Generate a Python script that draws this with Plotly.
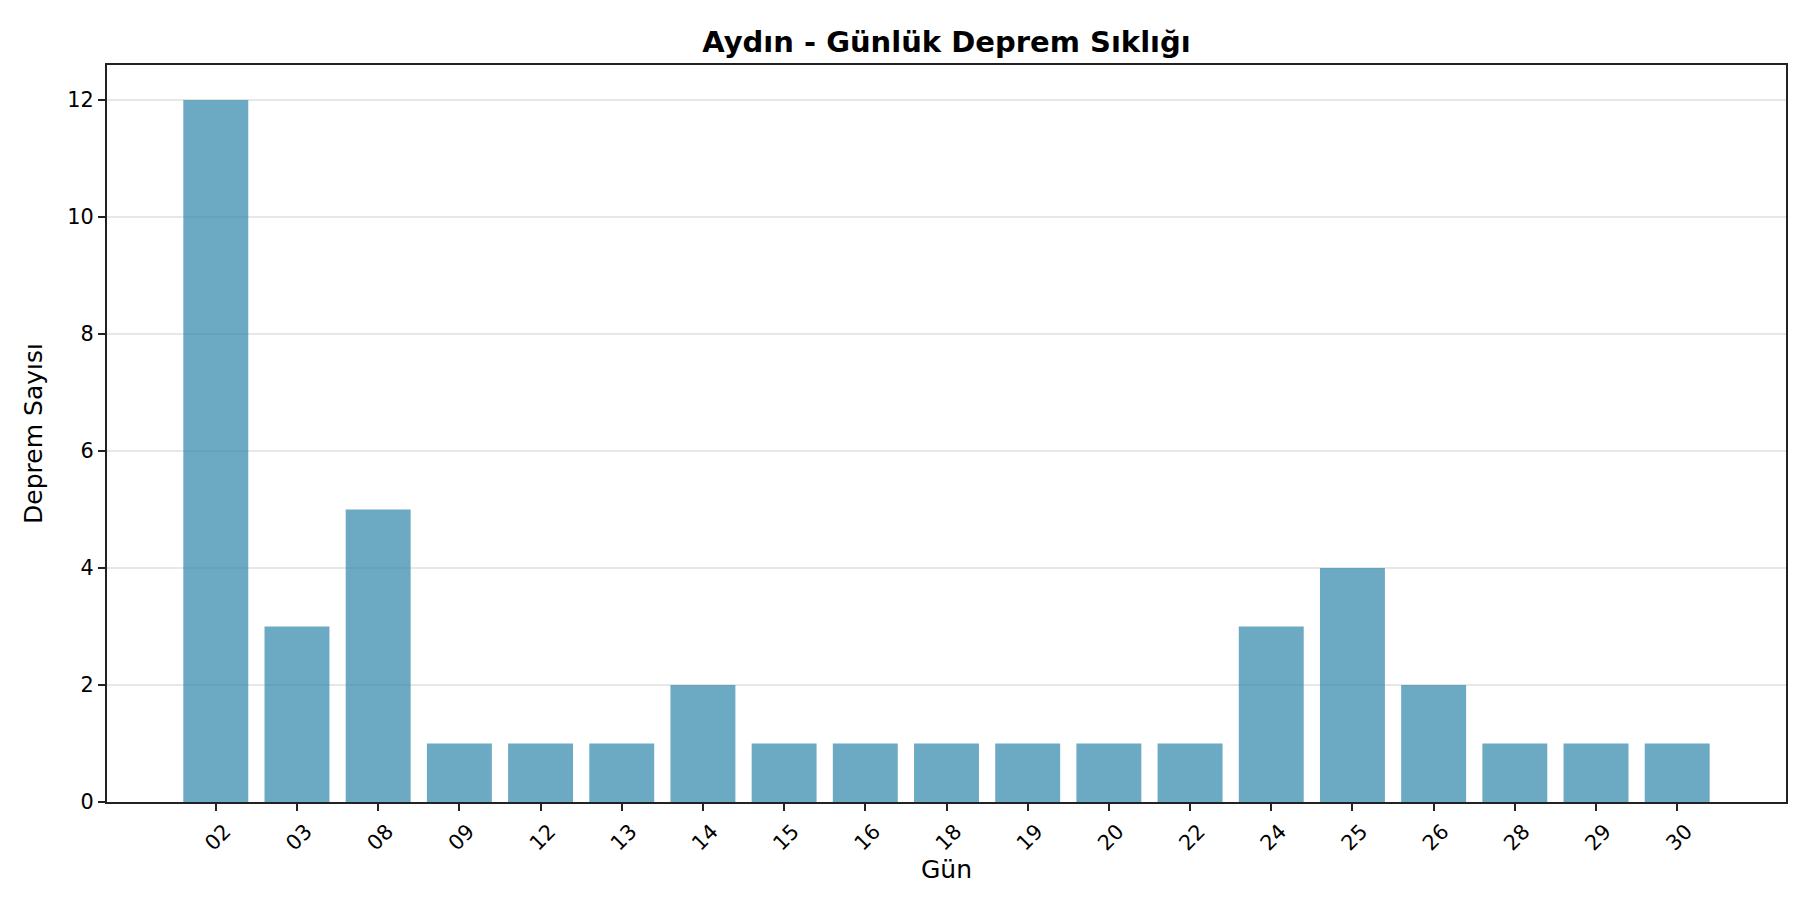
import plotly.graph_objects as go

# günlük deprem sayıları (Aydın)
days = ["02", "03", "08", "09", "12", "13", "14", "15", "16", "18",
        "19", "20", "22", "24", "25", "26", "28", "29", "30"]
counts = [12, 3, 5, 1, 1, 1, 2, 1, 1, 1, 1, 1, 1, 3, 4, 2, 1, 1, 1]
y_ticks = [0, 2, 4, 6, 8, 10, 12]

FONT = "DejaVu Sans"
n = len(days)

fig = go.Figure()
fig.add_trace(go.Bar(
    x=list(range(n)),
    y=counts,
    width=0.8,
    marker=dict(color="#2E86AB", opacity=0.7, line=dict(width=0)),
))

fig.update_layout(
    width=1800, height=900,
    margin=dict(l=99, r=22, t=57, b=106),
    plot_bgcolor="white", paper_bgcolor="white",
    showlegend=False,
    font=dict(family=FONT, color="black"),
    title=dict(text="<b>Aydın - Günlük Deprem Sıklığı</b>",
               font=dict(family=FONT, size=29, color="black"),
               x=0.5, xref="paper", xanchor="center",
               y=1 - 34 / 900, yref="container", yanchor="middle"),
)

fig.update_xaxes(
    range=[-1.34, n - 1 + 1.34],
    tickmode="array", tickvals=list(range(n)), ticktext=days,
    tickangle=-45, tickfont=dict(size=20.8, family=FONT),
    ticklabelshift=9,
    ticks="outside", ticklen=7, tickwidth=2, tickcolor="#222",
    showline=True, linecolor="#222", linewidth=2, mirror=True,
    showgrid=False, zeroline=False,
    title=dict(text="Gün", font=dict(size=25, family=FONT), standoff=6),
)
fig.update_yaxes(
    range=[0, 12.6],
    tickmode="array", tickvals=y_ticks,
    tickfont=dict(size=20.8, family=FONT),
    ticks="outside", ticklen=7, tickwidth=2, tickcolor="#222",
    showline=True, linecolor="#222", linewidth=2, mirror=True,
    showgrid=True, gridcolor="rgba(176,176,176,0.3)", gridwidth=2,
    zeroline=False,
    title=dict(text="Deprem Sayısı", font=dict(size=25, family=FONT), standoff=18),
)

fig.write_html("out.html")
